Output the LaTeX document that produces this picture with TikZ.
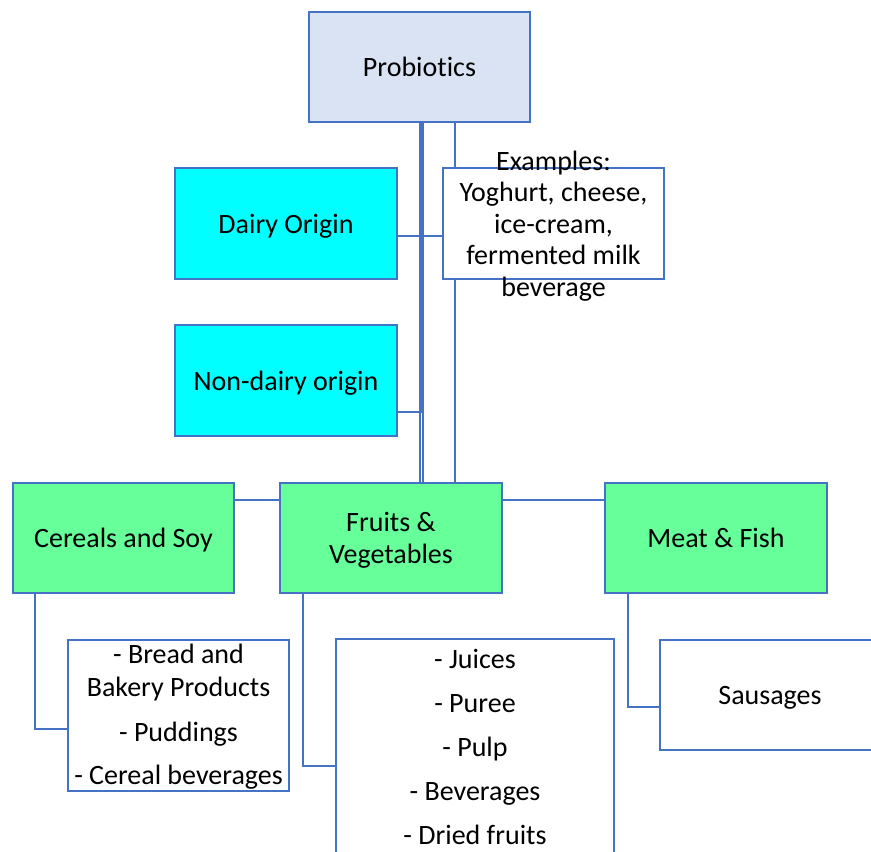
\documentclass[tikz,border=0pt]{standalone}
\usepackage{fontspec}
\setmainfont{Carlito}[Ligatures=NoCommon]
\usetikzlibrary{backgrounds}
\definecolor{bord}{HTML}{4472C4}
\definecolor{probfill}{HTML}{DAE3F3}
\definecolor{cyanfill}{HTML}{00FFFF}
\definecolor{greenfill}{HTML}{66FF99}
\newcommand\mylift{\rule{0pt}{24pt}}
\begin{document}
\begin{tikzpicture}[x=1pt,y=-1pt,
  box/.style={draw=bord,line width=2pt,rectangle,inner sep=0pt,align=center,
    font=\fontsize{28}{32}\selectfont,text=black},
  topbox/.style={box,fill=probfill},
  originbox/.style={box,fill=cyanfill},
  catbox/.style={box,fill=greenfill},
  listbox/.style={box,fill=white},
  conn/.style={draw=bord,line width=2pt}]
\useasboundingbox (0,0) rectangle (871,852);
\clip (0,0) rectangle (871,852);
\node[topbox,minimum width=221pt,minimum height=110pt] (prob) at (419.5,67) {Probiotics};
\node[originbox,minimum width=222pt,minimum height=111pt] (dairy) at (286,223.5) {\mylift Dairy Origin};
\node[originbox,minimum width=222pt,minimum height=111pt] (nondairy) at (286,380.5) {\mylift Non-dairy origin};
\node[listbox,minimum width=221pt,minimum height=111pt] (examples) at (553.5,223.5) {};
\node[font=\fontsize{28}{31.5}\selectfont,align=center,inner sep=0pt] (extext) at (553.5,223.5)
  {\rule{0pt}{24.5pt}Examples:\\Yoghurt, cheese,\\ice-cream,\\fermented milk\\beverage};
\node[catbox,minimum width=221pt,minimum height=110pt] (cereals) at (123.5,538) {\mylift Cereals and Soy};
\node[catbox,minimum width=222pt,minimum height=110pt] (fruits) at (391,538) {\rule{0pt}{23pt}Fruits \&\\Vegetables};
\node[catbox,minimum width=222pt,minimum height=110pt] (meat) at (716,538) {Meat \& Fish};
\node[listbox,minimum width=221pt,minimum height=151pt,font=\fontsize{28}{33}\selectfont] (bread) at (178.5,715.5)
  {\rule{0pt}{22pt}- Bread and\\Bakery Products\\[12pt]- Puddings\\[10pt]- Cereal beverages};
\node[listbox,minimum width=278pt,minimum height=216pt,font=\fontsize{28}{44}\selectfont] (juices) at (475,747)
  {- Juices\\- Puree\\- Pulp\\- Beverages\\- Dried fruits};
\node[listbox,minimum width=220pt,minimum height=110pt] (sausages) at (770,695) {\mylift Sausages};
\coordinate (pA) at (prob.south);
\coordinate (pM) at ([xshift=1.5pt]prob.south);
\coordinate (pB) at ([xshift=3pt]prob.south);
\coordinate (pC) at ([xshift=35.5pt]prob.south);
\coordinate (dE) at ([yshift=-12.5pt]dairy.east);
\coordinate (nE) at ([yshift=-31.5pt]nondairy.east);
\coordinate (cE) at ([yshift=38pt]cereals.east);
\coordinate (fE) at ([yshift=38pt]fruits.east);
\begin{scope}[on background layer]
\fill[white] (0,0) rectangle (871,852);
\draw[conn] (pA) -- (pA |- fruits.north);
\draw[conn] (pB) -- (pB |- fruits.north);
\draw[conn] (pM) -- (pM |- nE);
\draw[conn] (pC) -- (pC |- fruits.north);
\draw[conn] (dE) -- (dE -| examples.west);
\draw[conn] (nE) -- (nE -| pB);
\draw[conn] (cE) -- (cE -| fruits.west);
\draw[conn] (fE) -- (fE -| meat.west);
\draw[conn] ([xshift=-88.5pt]cereals.south) |- ([yshift=-13.5pt]bread.west);
\draw[conn] ([xshift=-88pt]fruits.south) |- ([yshift=-19pt]juices.west);
\draw[conn] ([xshift=-88pt]meat.south) |- ([yshift=-12pt]sausages.west);
\end{scope}
\end{tikzpicture}
\end{document}
